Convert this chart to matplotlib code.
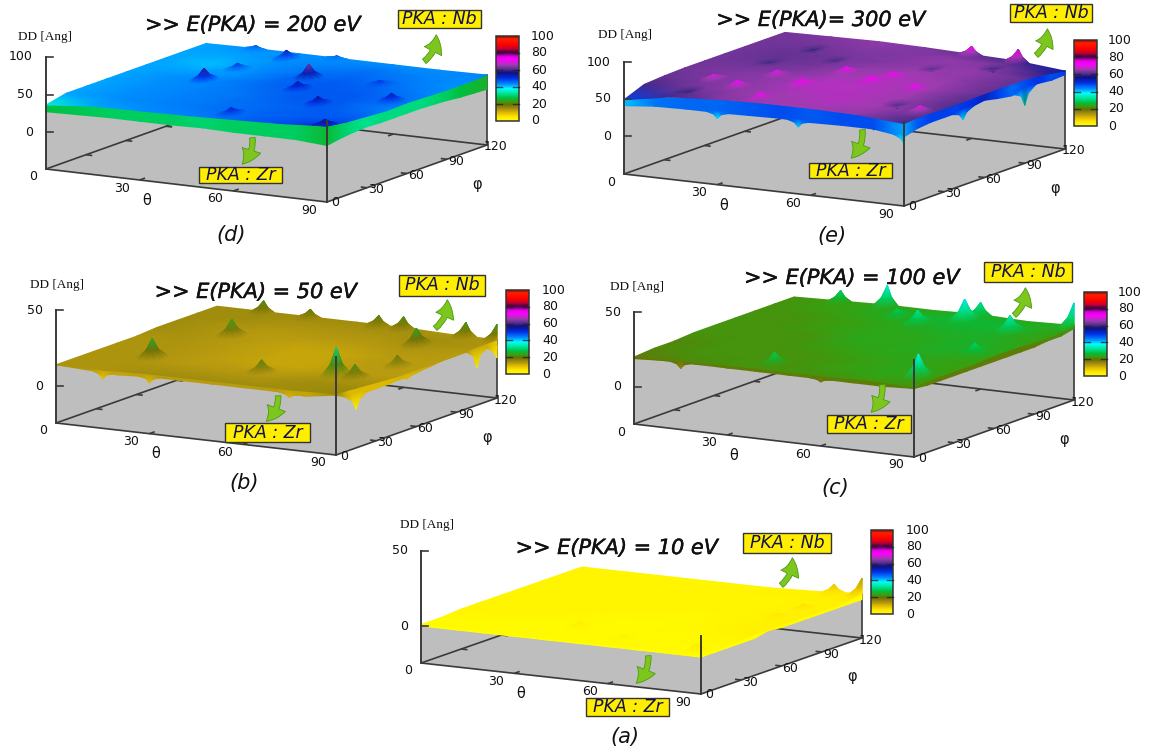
import numpy as np
import matplotlib
matplotlib.use('Agg')
import matplotlib.pyplot as plt
import matplotlib.patheffects as pe
from matplotlib.colors import LinearSegmentedColormap, Normalize
from matplotlib.patches import FancyArrowPatch, Rectangle

# surface grids: one row per theta (0, 15 .. 90), one column per phi (0, 15 .. 120)
grid_theta = np.arange(0, 105, 15)
grid_phi = np.arange(0, 135, 15)
# lower (Zr) layer along the two front edges
edge_theta = np.arange(0, 100, 10)
edge_phi = np.arange(0, 130, 10)
theta_ticks = [30, 60, 90]
phi_ticks = [30, 60, 90, 120]
cb_ticks = [0, 20, 40, 60, 80, 100]

dd_200 = [
    [36, 42, 42, 42, 42, 42, 42, 42, 42],
    [42, 43, 43, 43, 43, 42, 41, 42, 43],
    [43, 44, 44, 44, 44, 43, 43, 43, 43],
    [44, 45, 45, 45, 46, 46, 45, 44, 43],
    [46, 46, 46, 47, 47, 47, 46, 45, 43],
    [48, 47, 47, 47, 47, 46, 45, 44, 43],
    [52, 48, 46, 44, 45, 44, 43, 43, 44],
]
peaks_200 = [(25, 60, 59), (50, 80, 64), (55, 60, 56), (30, 110, 54), (70, 40, 56), (85, 60, 55), (55, 10, 53),
             (88, 3, 58), (25, 85, 50), (42, 120, 46), (16, 120, 47), (71, 84, 50)]
low_theta_200 = [27, 28, 29, 29, 29, 30, 29, 29, 29, 26]
low_phi_200 = [26, 29, 31, 32, 31, 31, 31, 31, 30, 29, 27, 26, 25]
dips_theta_200 = []
dips_phi_200 = []

dd_300 = [
    [49, 60, 62, 63, 63, 63, 63, 63, 63],
    [60, 63, 64, 64, 63, 62, 62, 63, 64],
    [64, 65, 65, 65, 64, 63, 63, 64, 65],
    [66, 66, 67, 67, 66, 65, 64, 64, 64],
    [66, 67, 67, 67, 67, 66, 65, 65, 62],
    [65, 66, 66, 66, 66, 65, 65, 64, 60],
    [60, 62, 61, 61, 62, 62, 62, 59, 54],
]
peaks_300 = [(26, 24, 72), (41, 37, 73), (43, 66, 72), (56, 54, 73), (58, 66, 72), (72, 50, 72), (28, 49, 71),
             (15, 32, 70), (40, 9, 72), (87, 19, 71), (75, 120, 76), (60, 120, 73), (18, 100, 58), (16, 12, 58),
             (16, 71, 59), (31, 86, 59), (77, 25, 59), (61, 88, 60), (75, 101, 58)]
low_theta_300 = [41, 45, 46, 46, 47, 48, 47, 48, 48, 42]
low_phi_300 = [42, 47, 49, 49, 49, 50, 53, 49, 46, 48, 50, 48, 49]
dips_theta_300 = [(30, 38), (56, 39), (90, 33)]
dips_phi_300 = [(44, 37), (90, 27)]

dd_050 = [
    [14, 14, 14, 14, 14, 15, 15, 15, 15],
    [14, 14, 14, 14, 14, 14, 14, 15, 15],
    [15, 14, 13, 13, 13, 13, 13, 14, 15],
    [15, 14, 13, 12, 12, 12, 13, 14, 15],
    [15, 14, 13, 12, 12, 12, 13, 14, 15],
    [15, 15, 14, 13, 13, 13, 14, 15, 14],
    [16, 15, 14, 13, 13, 13, 13, 14, 14],
]
peaks_050 = [(18, 30, 26), (22, 80, 24), (54, 28, 21), (52, 120, 21), (74, 97, 25), (75, 35, 32), (81, 35, 22),
             (83, 62, 20), (15, 120, 22), (30, 120, 20), (60, 120, 22), (80, 120, 23), (90, 120, 24)]
low_theta_050 = [14, 13, 12, 13, 13, 13, 13, 13, 12, 15]
low_phi_050 = [15, 10, 10, 10, 10, 11, 11, 12, 13, 13, 13, 12, 8]
dips_theta_050 = [(15, 8), (30, 9), (75, 10)]
dips_phi_050 = [(15, 1), (53, 9), (105, 0), (120, 2)]

dd_100 = [
    [20, 21, 21, 22, 22, 22, 22, 22, 22],
    [21, 22, 22, 22, 22, 22, 22, 23, 23],
    [22, 22, 22, 22, 22, 23, 23, 24, 24],
    [22, 22, 22, 23, 24, 24, 24, 25, 24],
    [22, 23, 23, 24, 24, 24, 25, 26, 25],
    [23, 24, 24, 24, 25, 25, 25, 26, 24],
    [22, 23, 23, 23, 24, 24, 23, 23, 25],
]
peaks_100 = [(15, 120, 30), (30, 120, 37), (60, 120, 33), (90, 120, 40), (50, 96, 33), (60, 108, 39), (78, 100, 35),
             (40, 104, 29), (83, 62, 30), (40, 12, 29), (85, 15, 38)]
low_theta_100 = [19, 20, 20, 20, 20, 20, 20, 20, 20, 21]
low_phi_100 = [21, 20, 20, 20, 20, 20, 20, 20, 20, 20, 21, 21, 23]
dips_theta_100 = [(15, 16), (60, 18)]
dips_phi_100 = []

dd_010 = [
    [1, 1, 2, 2, 2, 2, 2, 2, 2],
    [1, 1, 2, 2, 2, 2, 2, 2, 2],
    [1, 1, 1, 2, 2, 2, 2, 2, 2],
    [1, 1, 1, 1, 2, 2, 2, 2, 2],
    [1, 1, 1, 1, 1, 2, 2, 2, 2],
    [1, 1, 1, 2, 2, 2, 2, 2, 3],
    [0, 1, 2, 3, 3, 3, 3, 3, 5],
]
peaks_010 = [(90, 120, 15), (81, 120, 9), (84, 90, 6), (83, 72, 5), (40, 25, 4), (59, 14, 3), (85, 8, 5)]
low_theta_010 = [0, 0, 0, 0, 0, 0, 0, 0, 0, 0]
low_phi_010 = [0, 0, 0, 0, 0, 2, 1, 1, 1, 1, 1, 1, 1]
dips_theta_010 = []
dips_phi_010 = []

colour_stops = [
    (0, '#ffff00'), (5, '#ffe600'), (10, '#dcb800'), (13, '#b89a10'), (19, '#6c7006'),
    (23, '#38a010'), (27, '#00c040'), (33, '#00e8a0'), (38, '#00ffff'), (43, '#0090ff'),
    (50, '#0030e8'), (57, '#101080'), (61, '#54308c'), (66, '#a03cb0'), (72, '#ff00ff'),
    (76, '#e000e0'), (81, '#400040'), (85, '#c00030'), (90, '#ff0000'), (97, '#ff2000'),
    (100, '#900000'),
]
cmap = LinearSegmentedColormap.from_list('pka', [(v / 100, c) for v, c in colour_stops], N=512)
norm = Normalize(0, 100)

# panel layout in pixels of the 1150x750 picture
panels = [
    dict(dd=dd_200, peaks=peaks_200, low_t=low_theta_200, low_p=low_phi_200, dips_t=dips_theta_200, dips_p=dips_phi_200,
         left=(46, 169), front=(327, 202), right=(487, 145),
         z0=132, ztop=57, zticks=[0, 50, 100], front_z=59, box=(496, 36, 519, 121), cb_x=531,
         title='>> E(PKA) = 200 eV', title_xy=(253, 25), dd_xy=(18, 37),
         nb=(398, 10, 481, 28), zr=(199, 167, 282, 183), nb_arrow=((422, 63), (436, 32)),
         zr_arrow=((252, 135), (240, 166)), tag='(d)', tag_xy=(231, 235)),
    dict(dd=dd_300, peaks=peaks_300, low_t=low_theta_300, low_p=low_phi_300, dips_t=dips_theta_300, dips_p=dips_phi_300,
         left=(624, 174), front=(904, 206), right=(1065, 149),
         z0=136, ztop=62, zticks=[0, 50, 100], front_z=62, box=(1074, 40, 1097, 126), cb_x=1108,
         title='>> E(PKA)= 300 eV', title_xy=(821, 20), dd_xy=(598, 35),
         nb=(1010, 4, 1092, 22), zr=(809, 163, 892, 178), nb_arrow=((1034, 57), (1047, 26)),
         zr_arrow=((862, 127), (849, 160)), tag='(e)', tag_xy=(832, 236)),
    dict(dd=dd_050, peaks=peaks_050, low_t=low_theta_050, low_p=low_phi_050, dips_t=dips_theta_050, dips_p=dips_phi_050,
         left=(56, 423), front=(336, 455), right=(497, 398),
         z0=386, ztop=310, zticks=[0, 50], front_z=40, box=(506, 290, 529, 374), cb_x=542,
         title='>> E(PKA) = 50 eV', title_xy=(256, 292), dd_xy=(30, 285),
         nb=(399, 275, 485, 296), zr=(225, 423, 310, 442), nb_arrow=((433, 330), (447, 297)),
         zr_arrow=((278, 393), (264, 423)), tag='(b)', tag_xy=(244, 483)),
    dict(dd=dd_100, peaks=peaks_100, low_t=low_theta_100, low_p=low_phi_100, dips_t=dips_theta_100, dips_p=dips_phi_100,
         left=(634, 424), front=(914, 457), right=(1074, 400),
         z0=387, ztop=312, zticks=[0, 50], front_z=40, box=(1084, 292, 1107, 376), cb_x=1118,
         title='>> E(PKA) = 100 eV', title_xy=(852, 278), dd_xy=(610, 287),
         nb=(984, 262, 1072, 282), zr=(827, 415, 911, 433), nb_arrow=((1012, 317), (1025, 285)),
         zr_arrow=((882, 382), (869, 414)), tag='(c)', tag_xy=(835, 488)),
    dict(dd=dd_010, peaks=peaks_010, low_t=low_theta_010, low_p=low_phi_010, dips_t=dips_theta_010, dips_p=dips_phi_010,
         left=(421, 663), front=(701, 694), right=(862, 638),
         z0=626, ztop=551, zticks=[0, 50], front_z=14, box=(871, 530, 893, 614), cb_x=906,
         title='>> E(PKA) = 10 eV', title_xy=(617, 548), dd_xy=(400, 525),
         nb=(743, 533, 831, 553), zr=(586, 698, 669, 716), nb_arrow=((779, 587), (792, 555)),
         zr_arrow=((648, 653), (634, 685)), tag='(a)', tag_xy=(625, 737)),
]

AXIS = '#3a3a3a'
GREY = '#bebebe'
TICK_FS = 9
# spike footprint, about 11 px on screen each way
R_THETA = 3.5
R_PHI = 8.0
RING_R = [0.4, 1.0]
RING_H = [0.4, 0.0]


def project(p, theta, phi, z):
    # gnuplot view is orthographic, so a plain affine map is enough
    t = np.asarray(theta) / 90.0
    f = np.asarray(phi) / 120.0
    lx, ly = p['left']
    fx, fy = p['front']
    rx, ry = p['right']
    scale = (p['z0'] - p['ztop']) / p['zticks'][-1]
    x = lx + t * (fx - lx) + f * (rx - fx)
    y = ly + t * (fy - ly) + f * (ry - fy) - (ly - p['z0']) - np.asarray(z) * scale
    return x, y


def surf_z(dd, theta, phi):
    # height of the surface under a spike foot
    col = [np.interp(phi, grid_phi, row) for row in dd]
    return np.interp(theta, grid_theta, col)


def base_line(ax, p, th, ph, zorder, lw=1.2):
    x, y = project(p, th, ph, [p['zbase']] * len(th))
    ax.plot(x, y, color=AXIS, lw=lw, zorder=zorder, solid_capstyle='butt')


def draw_peaks(ax, p, dd):
    n_dir = 10
    xs, ys, cs, tris = [], [], [], []
    order = sorted(p['peaks'], key=lambda k: k[0] / 90 - k[1] / 120)
    for th, ph, tip in order:
        foot = surf_z(dd, th, ph)
        i0 = len(xs)
        pts = [(th, ph, tip)]
        for r, h in zip(RING_R, RING_H):
            for k in range(n_dir):
                a = 2 * np.pi * k / n_dir
                t2 = np.clip(th + r * R_THETA * np.cos(a), 0, 90)
                p2 = np.clip(ph + r * R_PHI * np.sin(a), 0, 120)
                ground = surf_z(dd, t2, p2)
                pts.append((t2, p2, ground + (tip - foot) * h))
        for t2, p2, z in pts:
            x, y = project(p, t2, p2, z)
            xs.append(x)
            ys.append(y)
            cs.append(z)
        fan = []
        for k in range(n_dir):
            k2 = (k + 1) % n_dir
            fan.append((i0, i0 + 1 + k, i0 + 1 + k2))
            fan.append((i0 + 1 + k, i0 + 1 + n_dir + k, i0 + 1 + n_dir + k2))
            fan.append((i0 + 1 + k, i0 + 1 + n_dir + k2, i0 + 1 + k2))
        # far faces first inside one spike
        mid = lambda tr: np.mean([pts[v - i0][0] / 90 - pts[v - i0][1] / 120 for v in tr])
        tris.extend(sorted(fan, key=mid))
    if tris:
        ax.tripcolor(np.array(xs), np.array(ys), np.array(tris), np.array(cs), shading='gouraud',
                     cmap=cmap, norm=norm, zorder=4.5)


def draw_dip(ax, p, th, ph, low, tip):
    # spike hanging below the front edge of the lower layer
    u = np.array([-1, -0.35, 0, 0.35, 1])
    frac = np.array([0, 0.3, 1, 0.3, 0])
    if th is None:
        ps = np.clip(ph + u * R_PHI, 0, 120)
        ts = 90 + 0 * ps
        base = np.interp(ps, edge_phi, low)
    else:
        ts = np.clip(th + u * R_THETA, 0, 90)
        ps = 0 * ts
        base = np.interp(ts, edge_theta, low)
    bottom = base + (tip - base) * frac
    x0, y0 = project(p, ts, ps, base + 2)
    x1, y1 = project(p, ts, ps, bottom)
    ax.pcolormesh(np.vstack([x0, x1]), np.vstack([y0, y1]), np.vstack([base, bottom]),
                  shading='gouraud', cmap=cmap, norm=norm, zorder=3)


def draw_panel(ax, p):
    scale = (p['z0'] - p['ztop']) / p['zticks'][-1]
    p['zbase'] = -(p['left'][1] - p['z0']) / scale
    dd = np.array(p['dd'], dtype=float)
    low_t = np.array(p['low_t'], dtype=float)
    low_p = np.array(p['low_p'], dtype=float)
    zb = p['zbase']

    # grey walls up to the lower surface
    wx0, wy0 = project(p, edge_theta, 0 * edge_theta, low_t)
    wx1, wy1 = project(p, 90 + 0 * edge_phi, edge_phi, low_p)
    cx, cy = project(p, [0, 90, 90], [0, 0, 120], [zb, zb, zb])
    ax.fill(np.r_[cx, wx1[::-1], wx0[::-1]], np.r_[cy, wy1[::-1], wy0[::-1]], color=GREY, lw=0, zorder=1)

    # back edges of the base, seen through the walls
    base_line(ax, p, [0, 0], [0, 120], 2)
    base_line(ax, p, [0, 90], [120, 120], 2)
    for ph in phi_ticks[:-1]:
        base_line(ax, p, [0, 2], [ph, ph], 2)
    for th in theta_ticks[:-1]:
        base_line(ax, p, [th, th], [120, 116], 2)

    # Zr layer that shows under the Nb surface along the two front edges
    top_t = np.array([surf_z(dd, th, 0) for th in edge_theta])
    top_p = np.array([surf_z(dd, 90, ph) for ph in edge_phi])
    for th, ph, low, top in ((edge_theta, 0 * edge_theta, low_t, top_t), (90 + 0 * edge_phi, edge_phi, low_p, top_p)):
        x0, y0 = project(p, th, ph, top)
        x1, y1 = project(p, th, ph, low)
        ax.pcolormesh(np.vstack([x0, x1]), np.vstack([y0, y1]), np.vstack([low, low]),
                      shading='gouraud', cmap=cmap, norm=norm, zorder=3)
    for th, tip in p['dips_t']:
        draw_dip(ax, p, th, None, low_t, tip)
    for ph, tip in p['dips_p']:
        draw_dip(ax, p, None, ph, low_p, tip)

    # main surface, far side first so the near part stays on top
    T, P = np.meshgrid(grid_theta, grid_phi[::-1], indexing='ij')
    X, Y = project(p, T, P, dd[:, ::-1])
    ax.pcolormesh(X, Y, dd[:, ::-1], shading='gouraud', cmap=cmap, norm=norm, zorder=4)
    draw_peaks(ax, p, dd)

    # front base lines and ticks
    base_line(ax, p, [0, 90], [0, 0], 5)
    base_line(ax, p, [90, 90], [0, 120], 5)
    for th in theta_ticks[:-1]:
        base_line(ax, p, [th, th], [0, 4], 5)
    for ph in phi_ticks[:-1]:
        base_line(ax, p, [90, 88], [ph, ph], 5)

    # verticals
    vx, vy = project(p, [0, 0], [0, 0], [zb, p['zticks'][-1]])
    ax.plot(vx, vy, color=AXIS, lw=1.4, zorder=5)
    vx, vy = project(p, [90, 90], [0, 0], [zb, p['front_z']])
    ax.plot(vx, vy, color=AXIS, lw=1.4, zorder=5)
    vx, vy = project(p, [90, 90], [120, 120], [zb, dd[-1, -1]])
    ax.plot(vx, vy, color=AXIS, lw=1.2, zorder=2)
    for z in p['zticks']:
        tx, ty = project(p, 0, 0, z)
        ax.plot([tx, tx + 7], [ty, ty], color=AXIS, lw=1.2, zorder=5)
        ax.text(tx - 13, ty, str(z), ha='right', va='center', fontsize=TICK_FS, color='#111111', zorder=6)

    # tick labels on the base
    tx, ty = project(p, 0, 0, zb)
    ax.text(tx - 13, ty + 8, '0', ha='center', va='center', fontsize=TICK_FS, color='#111111', zorder=6)
    for th in theta_ticks:
        tx, ty = project(p, th, 0, zb)
        ax.text(tx - 18, ty + 8, str(th), ha='center', va='center', fontsize=TICK_FS, color='#111111', zorder=6)
    tx, ty = project(p, 90, 0, zb)
    ax.text(tx + 8, ty + 1, '0', ha='center', va='center', fontsize=TICK_FS, color='#111111', zorder=6)
    for ph in phi_ticks:
        tx, ty = project(p, 90, ph, zb)
        ax.text(tx + 9, ty + 2, str(ph), ha='center', va='center', fontsize=TICK_FS, color='#111111', zorder=6)
    tx, ty = project(p, 45, 0, zb)
    ax.text(tx - 40, ty + 15, 'θ', ha='center', va='center', fontsize=10.5, color='#111111', zorder=6)
    tx, ty = project(p, 90, 90, zb)
    ax.text(tx + 30, ty + 25, 'φ', ha='center', va='center', fontsize=10.5, color='#111111', zorder=6)
    ax.text(*p['dd_xy'], 'DD [Ang]', ha='left', va='center', family='Liberation Serif', fontsize=9.5,
            color='#111111', zorder=6)

    # colour box
    x0, y0, x1, y1 = p['box']
    grad = np.linspace(0, 100, 256)[:, None]
    ax.imshow(grad, extent=(x0, x1, y1, y0), origin='lower', aspect='auto', cmap=cmap, norm=norm, zorder=5)
    ax.add_patch(Rectangle((x0, y0), x1 - x0, y1 - y0, fill=False, ec='#333333', lw=1.1, zorder=6))
    for v in cb_ticks:
        yy = y1 + (y0 - y1) * v / 100
        if 0 < v < 100:
            ax.plot([x0, x0 + 6], [yy, yy], color='#222222', lw=1, alpha=.8, zorder=6)
            ax.plot([x1 - 6, x1], [yy, yy], color='#222222', lw=1, alpha=.8, zorder=6)
        ax.text(p['cb_x'], yy, str(v), ha='left', va='center', fontsize=TICK_FS, color='#111111', zorder=6)

    # annotations pasted on top of the plot
    heavy = [pe.withStroke(linewidth=0.35, foreground='#111111')]
    ax.text(*p['title_xy'], p['title'], ha='center', va='center', fontsize=15, style='italic',
            color='#111111', zorder=8, path_effects=heavy)
    ax.text(*p['tag_xy'], p['tag'], ha='center', va='center', fontsize=15, style='italic',
            color='#111111', zorder=8)
    for key, label in (('nb', 'PKA : Nb'), ('zr', 'PKA : Zr')):
        bx0, by0, bx1, by1 = p[key]
        ax.add_patch(Rectangle((bx0, by0), bx1 - bx0, by1 - by0, fc='#ffee00', ec='#333333', lw=1, zorder=8))
        ax.text((bx0 + bx1) / 2, (by0 + by1) / 2, label, ha='center', va='center', fontsize=12.5, style='italic',
                color='#10104a', zorder=9)
    for key, rad in (('nb_arrow', 0.3), ('zr_arrow', -0.3)):
        ax.add_patch(FancyArrowPatch(*p[key], arrowstyle='simple,head_width=14,head_length=12,tail_width=4',
                                     connectionstyle='arc3,rad=%s' % rad, mutation_scale=1,
                                     fc='#7cc61e', ec='#4e9a12', lw=.6, zorder=7))


fig = plt.figure(figsize=(11.5, 7.5), dpi=100)
ax = fig.add_axes([0, 0, 1, 1])
for panel in panels:
    draw_panel(ax, panel)
ax.set_xlim(0, 1150)
ax.set_ylim(750, 0)
ax.axis('off')
fig.savefig('out.png', dpi=100)
